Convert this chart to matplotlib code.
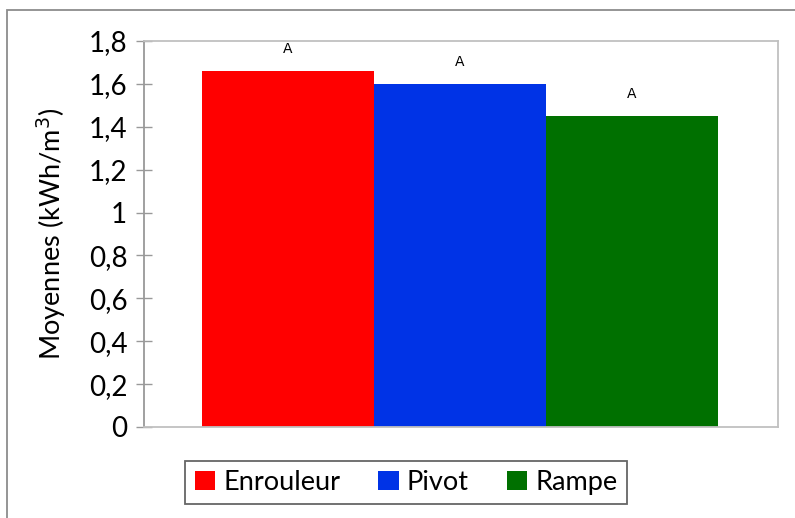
import matplotlib.pyplot as plt
from matplotlib.patches import Rectangle, Patch

plt.rcParams['font.family'] = ['Lato', 'DejaVu Sans']

# data
names = ['Enrouleur', 'Pivot', 'Rampe']
moyennes = [1.66, 1.60, 1.45]
groupes = ['A', 'A', 'A']
colors = ['#ff0000', '#0033e6', '#007000']
yticks = [0, 0.2, 0.4, 0.6, 0.8, 1, 1.2, 1.4, 1.6, 1.8]

fig = plt.figure(figsize=(7.95, 5.18), dpi=100)
ax = fig.add_axes([0.1811, 0.1757, 0.7975, 0.7451])

x = list(range(len(names)))
bars = ax.bar(x, moyennes, width=1.0, color=colors, edgecolor='none')

for xi, v, g in zip(x, moyennes, groupes):
    ax.annotate(g, (xi, v), xytext=(0, 16), textcoords='offset points',
                ha='center', va='center', fontsize=10, family='DejaVu Sans')

ax.set_xlim(-0.837, 2.849)
ax.set_ylim(0, 1.8)
ax.set_yticks(yticks)
ax.set_yticklabels([('%g' % t).replace('.', ',') for t in yticks], fontsize=20)
ax.set_xticks([])
ax.tick_params(axis='y', direction='inout', length=12, width=1, color='#999999', pad=6)

for s in ['top', 'right', 'bottom']:
    ax.spines[s].set_color('#c0c0c0')
    ax.spines[s].set_linewidth(1.3)
ax.spines['left'].set_color('#999999')
ax.spines['left'].set_linewidth(1.3)

ax.set_ylabel('Moyennes (kWh/m$^{3}$)', fontsize=19.5, labelpad=15)

handles = [Patch(facecolor=c, edgecolor='none') for c in colors]
leg = fig.legend(handles, names, loc='center', bbox_to_anchor=(0.5107, 0.0685),
                 ncol=3, fontsize=19.5, frameon=True, fancybox=False,
                 handlelength=0.75, handleheight=0.75, handletextpad=0.3,
                 columnspacing=1.4, borderpad=0.35)
leg.get_frame().set_edgecolor('#404040')
leg.get_frame().set_linewidth(1.3)

# outer chart border
fig.patches.append(Rectangle((7 / 795, -0.01), 1.0, 1 - 10 / 518 + 0.01,
                             transform=fig.transFigure, fill=False,
                             edgecolor='#8c8c8c', linewidth=1.3))

fig.savefig('out.png', dpi=100)
